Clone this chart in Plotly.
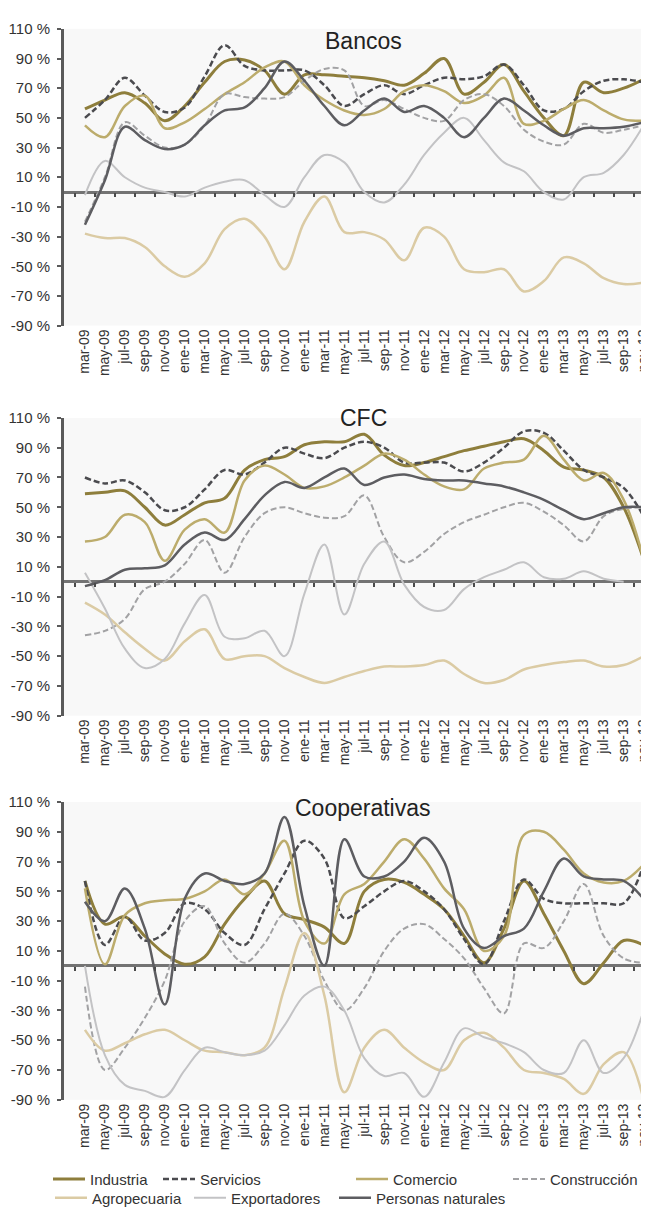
import plotly.graph_objects as go

# categorias del eje x (bimestral)
meses = ["mar-09", "may-09", "jul-09", "sep-09", "nov-09", "ene-10", "mar-10", "may-10",
         "jul-10", "sep-10", "nov-10", "ene-11", "mar-11", "may-11", "jul-11", "sep-11",
         "nov-11", "ene-12", "mar-12", "may-12", "jul-12", "sep-12", "nov-12", "ene-13",
         "mar-13", "may-13", "jul-13", "sep-13", "nov-13"]

series = ["Industria", "Servicios", "Comercio", "Construcción",
          "Agropecuaria", "Exportadores", "Personas naturales"]

y_ticks = [110, 90, 70, 50, 30, 10, -10, -30, -50, -70, -90]

# Bancos
bancos_industria = [56, 62, 67, 60, 48, 58, 74, 88, 89, 82, 66, 79, 79, 78, 77, 75, 72, 80, 90, 66, 74, 86, 68, 50, 38, 74, 67, 70, 76]
bancos_servicios = [50, 62, 77, 65, 54, 57, 78, 99, 85, 82, 82, 82, 72, 58, 66, 72, 66, 72, 77, 76, 78, 86, 72, 55, 56, 68, 75, 76, 74]
bancos_comercio = [45, 37, 58, 65, 43, 47, 56, 66, 74, 84, 88, 72, 62, 55, 52, 56, 68, 72, 68, 60, 65, 77, 46, 48, 56, 62, 55, 49, 48]
bancos_construccion = [-20, 10, 47, 38, 30, 32, 45, 66, 64, 63, 64, 75, 83, 82, 58, 62, 56, 50, 48, 62, 66, 58, 42, 34, 32, 46, 40, 42, 45]
bancos_agropecuaria = [-28, -31, -31, -37, -50, -57, -48, -25, -18, -30, -52, -20, -3, -27, -27, -32, -46, -24, -30, -52, -54, -52, -67, -60, -44, -48, -58, -62, -61]
bancos_exportadores = [-2, 21, 10, 3, 0, -3, 3, 7, 8, -2, -10, 10, 25, 20, 0, -7, 5, 25, 40, 50, 35, 20, 14, 0, -5, 10, 13, 25, 45]
bancos_personas = [-22, 8, 44, 35, 29, 32, 45, 55, 57, 70, 88, 75, 58, 45, 55, 63, 54, 58, 50, 37, 50, 63, 55, 45, 38, 43, 43, 44, 47]

# CFC
cfc_industria = [59, 60, 61, 50, 38, 45, 53, 56, 75, 82, 84, 92, 94, 94, 99, 85, 78, 80, 84, 88, 91, 94, 96, 88, 77, 75, 70, 50, 15]
cfc_servicios = [70, 66, 68, 60, 48, 50, 62, 75, 72, 80, 90, 86, 83, 90, 94, 90, 80, 80, 80, 74, 80, 90, 101, 100, 88, 75, 70, 63, 44]
cfc_comercio = [27, 30, 45, 40, 14, 35, 42, 33, 68, 78, 72, 63, 64, 70, 78, 86, 82, 72, 64, 62, 76, 80, 82, 98, 82, 68, 73, 55, 15]
cfc_construccion = [-36, -33, -25, -5, 0, 12, 28, 6, 30, 46, 50, 46, 43, 44, 58, 30, 13, 20, 32, 40, 45, 50, 53, 47, 38, 27, 44, 49, 50]
cfc_agropecuaria = [-14, -22, -34, -45, -53, -40, -32, -52, -50, -50, -58, -64, -68, -64, -60, -57, -57, -56, -53, -62, -68, -66, -59, -56, -54, -53, -57, -56, -50]
cfc_exportadores = [6, -18, -45, -58, -52, -28, -9, -37, -38, -33, -50, -8, 25, -22, 12, 27, -2, -17, -19, -5, 3, 8, 13, 3, 2, 7, 2, 0, None]
cfc_personas = [-3, 1, 8, 9, 11, 25, 33, 28, 42, 58, 67, 63, 70, 76, 65, 70, 72, 69, 68, 68, 66, 64, 60, 55, 48, 42, 46, 50, 50]

# Cooperativas
coop_industria = [57, 28, 33, 20, 8, 1, 6, 28, 45, 57, 35, 31, 26, 15, 50, 58, 56, 48, 38, 20, 2, 25, 57, 35, 10, -12, 2, 17, 14]
coop_servicios = [57, 14, 33, 17, 22, 42, 38, 22, 14, 38, 62, 84, 72, 32, 40, 50, 57, 50, 38, 18, 1, 30, 58, 45, 42, 42, 42, 42, 68]
coop_comercio = [52, 1, 34, 42, 44, 45, 50, 58, 48, 62, 84, 30, 15, 48, 55, 70, 85, 72, 52, 38, 10, 20, 88, 90, 78, 62, 56, 57, 68]
coop_construccion = [-14, -70, -55, -35, -10, 30, 40, 15, 2, 15, 35, 20, -10, -30, -15, 10, 25, 28, 18, 5, -15, -32, 15, 12, 30, 55, 20, 5, 2]
coop_agropecuaria = [-43, -57, -52, -46, -43, -50, -57, -58, -60, -55, -15, 22, -20, -85, -55, -43, -55, -65, -70, -50, -45, -55, -70, -72, -76, -86, -66, -58, -90]
coop_exportadores = [0, -60, -80, -84, -88, -70, -55, -58, -60, -57, -40, -20, -14, -30, -62, -74, -72, -88, -65, -42, -48, -52, -58, -70, -72, -50, -72, -62, -30]
coop_personas = [43, 30, 52, 25, -26, 45, 62, 57, 55, 62, 100, 40, 0, 85, 60, 60, 70, 86, 70, 25, 12, 20, 25, 50, 72, 60, 58, 57, 45]

paneles = [
    ("Bancos", [bancos_industria, bancos_servicios, bancos_comercio, bancos_construccion,
                bancos_agropecuaria, bancos_exportadores, bancos_personas]),
    ("CFC", [cfc_industria, cfc_servicios, cfc_comercio, cfc_construccion,
             cfc_agropecuaria, cfc_exportadores, cfc_personas]),
    ("Cooperativas", [coop_industria, coop_servicios, coop_comercio, coop_construccion,
                      coop_agropecuaria, coop_exportadores, coop_personas]),
]

# estilo de cada serie: color, ancho, guiones
estilo = {
    "Industria": ("#8e7e3c", 3, "solid"),
    "Servicios": ("#4b4b4f", 2.5, "6px,3px"),
    "Comercio": ("#bcac6c", 2.5, "solid"),
    "Construcción": ("#a2a2a4", 2, "6px,3px"),
    "Agropecuaria": ("#dbcba4", 2.5, "solid"),
    "Exportadores": ("#c3c3c5", 2, "solid"),
    "Personas naturales": ("#5d5d61", 2.5, "solid"),
}
# dos filas de leyenda, como en el original
leyenda_fila = {"Industria": "legend", "Servicios": "legend", "Comercio": "legend",
                "Construcción": "legend", "Agropecuaria": "legend2",
                "Exportadores": "legend2", "Personas naturales": "legend2"}
ancho_item = {"Industria": 63, "Servicios": 146, "Comercio": 110, "Construcción": 92,
              "Agropecuaria": 92, "Exportadores": 98, "Personas naturales": 130}

W, H = 649, 1207
FONT = "Liberation Sans, Arial, sans-serif"
cajas = [(21, 320, 33), (413, 713, 413), (800, 1100, 806)]  # top, bottom, title y (px)
x_dom = [56 / W, 1.0]
x_rango = [-1.05, 28.67]

fig = go.Figure()
layout = {}
for k, (titulo, datos) in enumerate(paneles):
    n = "" if k == 0 else str(k + 1)
    for nombre, vals in zip(series, datos):
        color, ancho, dash = estilo[nombre]
        fig.add_trace(go.Scatter(
            x=meses, y=vals, name=nombre, mode="lines",
            line=dict(color=color, width=ancho, dash=dash, shape="spline", smoothing=1),
            xaxis="x" + n, yaxis="y" + n,
            showlegend=(k == 0), legend=leyenda_fila[nombre],
            legendwidth=ancho_item[nombre], hoverinfo="skip"))

    top, bot, ty = cajas[k]
    y_dom = [1 - bot / H, 1 - top / H]
    layout["xaxis" + n] = dict(
        domain=x_dom, anchor="y" + n, type="category", categoryarray=meses,
        range=x_rango, tickangle=-90, showline=False, showgrid=False, zeroline=False,
        ticks="", tickfont=dict(size=14, color="#333333", family=FONT), automargin=False)
    layout["yaxis" + n] = dict(
        domain=y_dom, anchor="x" + n, range=[-90, 110], tickvals=y_ticks,
        ticktext=[f"{v} %" for v in y_ticks], showgrid=False,
        showline=True, linecolor="#5a5a5a", linewidth=3, ticks="outside", ticklen=4,
        tickcolor="#5a5a5a", tickwidth=1.5, ticklabelstandoff=4,
        zeroline=True, zerolinecolor="#737373", zerolinewidth=3,
        tickfont=dict(size=15, color="#333333", family=FONT), automargin=False)

    # eje auxiliar con marcas de division sobre la linea del cero
    m = str(k + 4)
    pos = y_dom[0] + (0 - (-90)) / 200 * (y_dom[1] - y_dom[0])
    layout["xaxis" + m] = dict(
        domain=x_dom, overlaying="x" + n, anchor="free", position=pos,
        range=x_rango, tickvals=[i + 0.5 for i in range(-1, 29)],
        showticklabels=False, ticks="outside", ticklen=4, tickwidth=1.5,
        tickcolor="#4a4a4a", showline=False, showgrid=False, zeroline=False)
    fig.add_trace(go.Scatter(x=[], y=[], xaxis="x" + m, yaxis="y" + n,
                             showlegend=False, hoverinfo="skip"))

    fig.add_annotation(text=titulo, x=355 / W, y=1 - ty / H, xref="paper", yref="paper",
                       showarrow=False, xanchor="center", yanchor="middle",
                       font=dict(size=23, color="#222222", family=FONT))

fig.update_layout(
    width=W, height=H, template="none",
    margin=dict(l=0, r=0, t=0, b=0),
    paper_bgcolor="white", plot_bgcolor="#f8f8f8",
    font=dict(family=FONT, size=14, color="#333333"),
    legend=dict(orientation="h", x=40 / W, xanchor="left", y=1 - 1180 / H, yanchor="middle",
                itemwidth=32, font=dict(size=15, color="#333333", family=FONT),
                bgcolor="rgba(0,0,0,0)", itemclick=False),
    legend2=dict(orientation="h", x=42 / W, xanchor="left", y=1 - 1199 / H, yanchor="middle",
                 itemwidth=32, font=dict(size=15, color="#333333", family=FONT),
                 bgcolor="rgba(0,0,0,0)", itemclick=False),
    **layout,
)

fig.write_html("out.html")
